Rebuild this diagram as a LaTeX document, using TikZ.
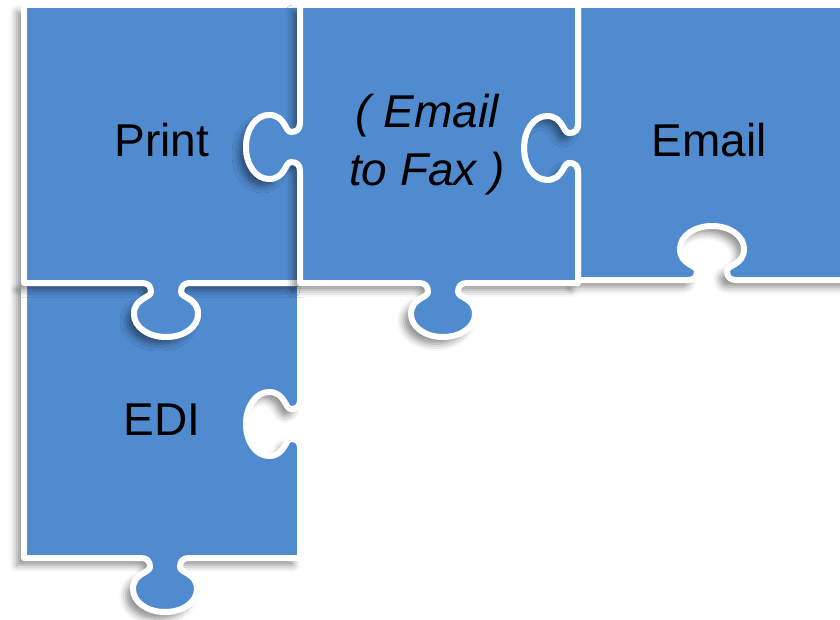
\documentclass[tikz,border=0pt]{standalone}
\usepackage{fontspec}
\setmainfont{Liberation Sans}
\usetikzlibrary{shadows.blur}
\definecolor{pieceblue}{RGB}{80,138,207}
\tikzset{
  piece/.style={fill=pieceblue, draw=white, line width=6pt, line join=round,
    blur shadow={shadow xshift=-7pt, shadow yshift=-7pt, shadow blur radius=7pt, shadow opacity=45}},
  lbl/.style={text=black, font=\fontsize{46}{58}\selectfont, inner sep=0pt, anchor=base},
  knob/.style n args={6}{insert path={
    -- ({#1+(-24)*(#3)+(0)*(#5)},{#2+(-24)*(#4)+(0)*(#6)})
    .. controls ({#1+(-18)*(#3)+(0)*(#5)},{#2+(-18)*(#4)+(0)*(#6)})
       and ({#1+(-15)*(#3)+(3)*(#5)},{#2+(-15)*(#4)+(3)*(#6)})
    .. ({#1+(-15)*(#3)+(9)*(#5)},{#2+(-15)*(#4)+(9)*(#6)})
    .. controls ({#1+(-15)*(#3)+(15)*(#5)},{#2+(-15)*(#4)+(15)*(#6)})
       and ({#1+(-32)*(#3)+(15)*(#5)},{#2+(-32)*(#4)+(15)*(#6)})
    .. ({#1+(-32)*(#3)+(31)*(#5)},{#2+(-32)*(#4)+(31)*(#6)})
    .. controls ({#1+(-32)*(#3)+(44)*(#5)},{#2+(-32)*(#4)+(44)*(#6)})
       and ({#1+(-18)*(#3)+(54)*(#5)},{#2+(-18)*(#4)+(54)*(#6)})
    .. ({#1+(0)*(#3)+(54)*(#5)},{#2+(0)*(#4)+(54)*(#6)})
    .. controls ({#1+(18)*(#3)+(54)*(#5)},{#2+(18)*(#4)+(54)*(#6)})
       and ({#1+(32)*(#3)+(44)*(#5)},{#2+(32)*(#4)+(44)*(#6)})
    .. ({#1+(32)*(#3)+(31)*(#5)},{#2+(32)*(#4)+(31)*(#6)})
    .. controls ({#1+(32)*(#3)+(15)*(#5)},{#2+(32)*(#4)+(15)*(#6)})
       and ({#1+(15)*(#3)+(15)*(#5)},{#2+(15)*(#4)+(15)*(#6)})
    .. ({#1+(15)*(#3)+(9)*(#5)},{#2+(15)*(#4)+(9)*(#6)})
    .. controls ({#1+(15)*(#3)+(3)*(#5)},{#2+(15)*(#4)+(3)*(#6)})
       and ({#1+(18)*(#3)+(0)*(#5)},{#2+(18)*(#4)+(0)*(#6)})
    .. ({#1+(24)*(#3)+(0)*(#5)},{#2+(24)*(#4)+(0)*(#6)})
  }}
}
\begin{document}
\begin{tikzpicture}[x=1pt, y=-1pt]
\useasboundingbox (0,0) rectangle (840,620);
\clip (0,0) rectangle (840,620);
% EDI
\draw[piece] (24,283) [knob={166}{283}{1}{0}{0}{1}] -- (300,283)
  [knob={300}{424}{0}{1}{-1}{0}] -- (300,558)
  [knob={165}{558}{-1}{0}{0}{1}] -- (24,558) -- cycle;
% Print
\draw[piece] (24,5) -- (300,5) [knob={300}{147}{0}{1}{-1}{0}] -- (300,283)
  [knob={166}{283}{-1}{0}{0}{1}] -- (24,283) -- cycle;
% Email
\draw[piece] (578,5) -- (860,5) -- (860,280)
  [knob={712}{280}{-1}{0}{0}{-1}] -- (578,280)
  [knob={578}{148}{0}{-1}{-1}{0}] -- cycle;
% Email to Fax
\draw[piece] (300,5) -- (578,5) [knob={578}{148}{0}{1}{-1}{0}] -- (578,283)
  [knob={443}{283}{-1}{0}{0}{1}] -- (300,283)
  [knob={300}{147}{0}{-1}{-1}{0}] -- cycle;
\node[lbl] (print) at (162,157) {Print};
\node[lbl] (email) at (709,157) {Email};
\node[lbl] (edi) at (162,435) {EDI};
\node[lbl, align=center, font=\fontsize{46}{58}\selectfont\itshape] (e2f) at (427,186) {( Email\\to Fax )};
\end{tikzpicture}
\end{document}
